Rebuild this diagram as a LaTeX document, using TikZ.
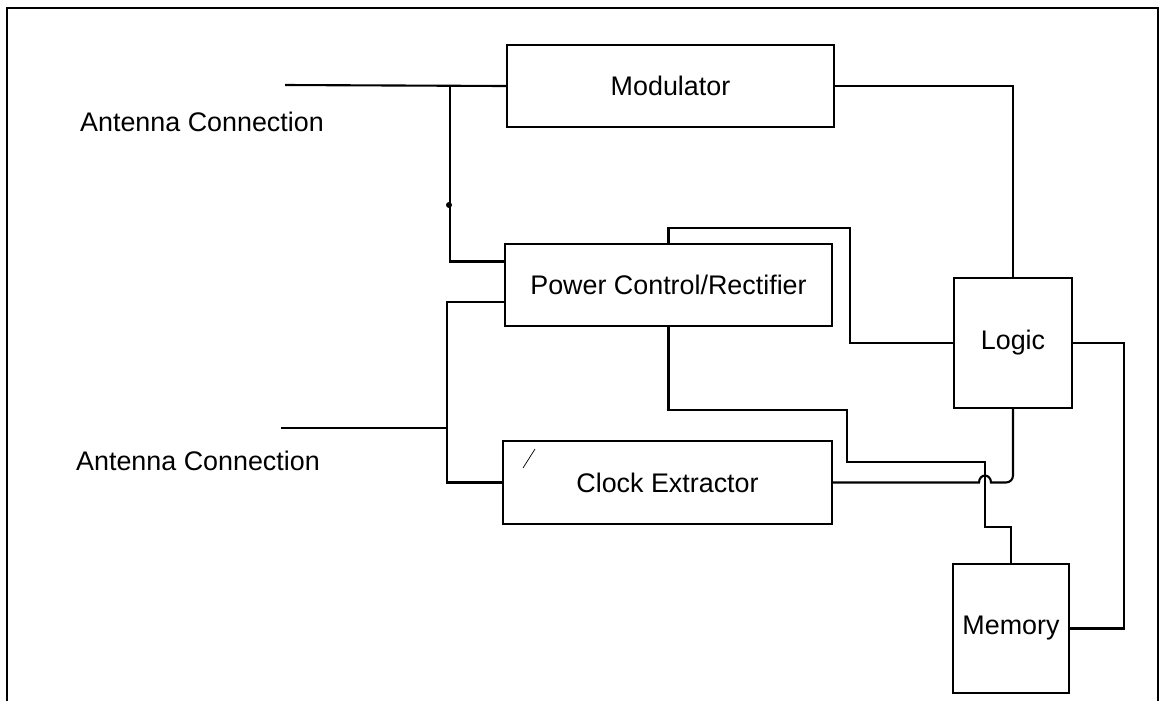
\documentclass[tikz,border=0pt]{standalone}
\usepackage{fontspec}
\setmainfont{Liberation Sans}
\usepackage{tikz}
\usetikzlibrary{calc}
\tikzset{
  blk/.style={draw, line width=1.2pt, inner sep=0pt, font=\fontsize{15.3}{18}\selectfont},
  wire/.style={line width=1.2pt},
  frm/.style={line width=1pt},
  lbl/.style={font=\fontsize{15.3}{18}\selectfont},
}
\begin{document}
\begin{tikzpicture}[x=0.02cm,y=-0.02cm]
  \useasboundingbox (0,0) rectangle (1165,701);
  % page frame
  \draw[frm] (7,701) -- (7,8) -- (1158,8) -- (1158,701);
  % blocks
  \node[blk, minimum width=6.54cm, minimum height=1.64cm] (mod) at (670.5,86) {Modulator};
  \node[blk, minimum width=6.54cm, minimum height=1.64cm] (pwr) at (668.5,285) {Power Control/Rectifier};
  \node[blk, minimum width=6.58cm, minimum height=1.66cm] (clk) at (667.5,482.5) {Clock Extractor};
  \node[blk, minimum width=2.36cm, minimum height=2.6cm] (logic) at (1013,343) {Logic};
  \node[blk, minimum width=2.32cm, minimum height=2.58cm] (mem) at (1011,628.5) {Memory};
  \node[lbl] (lab1) at (202,122) {Antenna Connection};
  \node[lbl] (lab2) at (198,461) {Antenna Connection};
  % antenna inputs
  \coordinate (a1) at (285,85);
  \coordinate (j1) at (450,85);
  \coordinate (a2) at (281,428);
  \coordinate (j2) at (447,428);
  \draw[wire] (a1) -- (mod.west);
  \draw[wire] (j1) |- ($(pwr.north west)!0.22!(pwr.south west)$);
  \fill (449,205) circle (0.06cm);
  \draw[wire] (a2) -- (j2);
  \draw[wire] ($(pwr.north west)!0.7!(pwr.south west)$) -| (j2) |- (clk.west);
  \draw[thin] (535,449) -- (523,468);
  % modulator and power to logic
  \coordinate (lp) at (850,228);
  \draw[wire] (mod.east) -| (logic.north);
  \draw[wire] (pwr.north) |- (lp) |- (logic.west);
  % power to memory
  \coordinate (b1) at (847,410);
  \coordinate (b2) at (985,462);
  \coordinate (b3) at (1011,527);
  \draw[wire] (pwr.south) |- (b1) |- (b2) |- (b3) -- (mem.north);
  % clock to logic, hop over the power line
  \draw[wire] (clk.east) -- ($(clk.east -| b2)+(-6,0)$)
    arc[start angle=180, end angle=0, x radius=0.12cm, y radius=0.14cm]
    [rounded corners=4pt] -| (logic.south);
  % logic to memory
  \coordinate (r1) at (1124,628.5);
  \draw[wire] (logic.east) -| (r1) -- (mem.east);
\end{tikzpicture}
\end{document}
